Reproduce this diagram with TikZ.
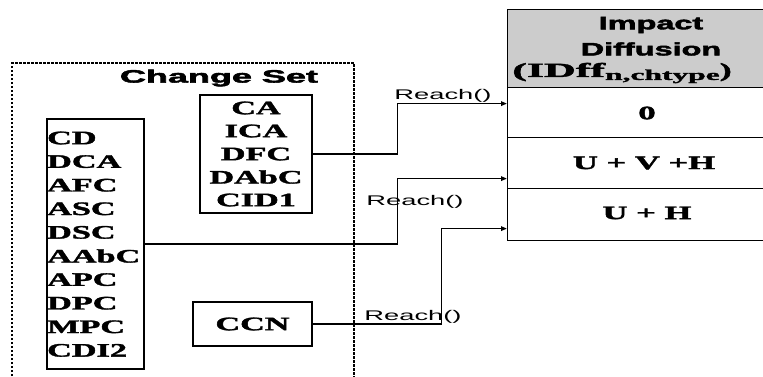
\documentclass[tikz,border=0pt]{standalone}
\usepackage{fontspec}
\usepackage{graphicx}
\setmainfont{Liberation Serif}[BoldFeatures={FakeBold=1.6}]
\newfontfamily\arialf{Liberation Sans}[BoldFeatures={FakeBold=2.2}]
\usetikzlibrary{arrows.meta}
\newcommand{\hstretch}[2]{\scalebox{#1}[1]{#2}}
\newcommand{\itm}[1]{\hstretch{1.8}{\fontsize{19}{19}\selectfont\bfseries #1}}
\newcommand{\sanshead}[2]{\hstretch{#1}{\arialf\fontsize{18}{18}\selectfont\bfseries #2}}
\newcommand{\reachtxt}{\hstretch{1.95}{\arialf\fontsize{14}{14}\selectfont Reach()}}
\newcommand{\rowtxt}[1]{\hstretch{1.82}{\fontsize{19}{19}\selectfont\bfseries #1}}
\begin{document}
\begin{tikzpicture}[x=1pt,y=-1pt,
  box/.style={draw, line width=1.3pt, inner sep=0pt},
  region/.style={draw, line width=1.2pt, dash pattern=on 2.5pt off 1.5pt},
  txt/.style={inner sep=0pt},
  cell/.style={draw, line width=1.2pt, inner sep=0pt, anchor=north west, minimum width=280pt},
  conn/.style={line width=1.6pt, -{Triangle[length=6pt,width=4.5pt,fill=gray!50]}}]
\useasboundingbox (0,0) rectangle (763,376);
\clip (0,0) rectangle (763,376);
\fill[white] (0,0) rectangle (763,376);
% change set region
\draw[region] (12,380) -- (12,63) -- (354,63) -- (354,380);
\node[txt] (title) at (219,78) {\sanshead{2.0}{Change Set}};
% boxes
\node[box, minimum width=97pt, minimum height=250pt] (L) at (95.5,244) {};
\node[box, minimum width=112pt, minimum height=118pt] (CA) at (256,154) {};
\node[box, minimum width=119pt, minimum height=44pt] (CCN) at (252.5,324) {};
% left list
\node[txt, anchor=west] (l1) at (47,138) {\itm{CD}};
\node[txt, anchor=west] (l2) at (47,161.6) {\itm{DCA}};
\node[txt, anchor=west] (l3) at (47,185.2) {\itm{AFC}};
\node[txt, anchor=west] (l4) at (47,208.8) {\itm{ASC}};
\node[txt, anchor=west] (l5) at (47,232.4) {\itm{DSC}};
\node[txt, anchor=west] (l6) at (47,256) {\itm{AAbC}};
\node[txt, anchor=west] (l7) at (47,279.6) {\itm{APC}};
\node[txt, anchor=west] (l8) at (47,303.2) {\itm{DPC}};
\node[txt, anchor=west] (l9) at (47,326.8) {\itm{MPC}};
\node[txt, anchor=west] (l10) at (47,350.4) {\itm{CDI2}};
% CA list
\node[txt] (c1) at (256,108) {\itm{CA}};
\node[txt] (c2) at (256,131) {\itm{ICA}};
\node[txt] (c3) at (256,154) {\itm{DFC}};
\node[txt] (c4) at (256,177) {\itm{DAbC}};
\node[txt] (c5) at (256,200) {\itm{CID1}};
\node[txt] (ccn) at (252.5,324) {\itm{CCN}};
% table
\node[cell, fill=gray!40, minimum height=78pt] (H) at (507,9) {};
\node[cell, minimum height=50pt] (r0) at (507,87) {};
\node[cell, minimum height=51pt] (r1) at (507,137) {};
\node[cell, minimum height=52pt] (r2) at (507,188) {};
\node[txt] (h1) at (651,25) {\sanshead{1.8}{Impact}};
\node[txt] (h2) at (651,49) {\sanshead{1.8}{Diffusion}};
\node[txt] (h3) at (622,73) {\bfseries\hstretch{2.2}{\fontsize{20}{20}\selectfont (IDff}\raisebox{-3pt}{\hstretch{2.1}{\fontsize{15}{15}\selectfont n,chtype}}\hstretch{1.8}{\fontsize{20}{20}\selectfont )}};
\node[txt] (t0) at (647,113) {\rowtxt{0}};
\node[txt] (t1) at (644,163) {\rowtxt{U + V +H}};
\node[txt] (t2) at (647,213) {\rowtxt{U + H}};
% connectors
\draw[conn] (CA.east) -- ++(85,0) |- ([yshift=9pt]r0.west);
\draw[conn] (L.east) -- ++(253,0) |- ([yshift=-15.5pt]r1.west);
\draw[conn] (CCN.east) -- ++(129,0) |- ([yshift=-14pt]r2.west);
\node[txt] (rc1) at (443,96) {\reachtxt};
\node[txt] (rc2) at (415,202) {\reachtxt};
\node[txt] (rc3) at (413,317) {\reachtxt};
\end{tikzpicture}
\end{document}
